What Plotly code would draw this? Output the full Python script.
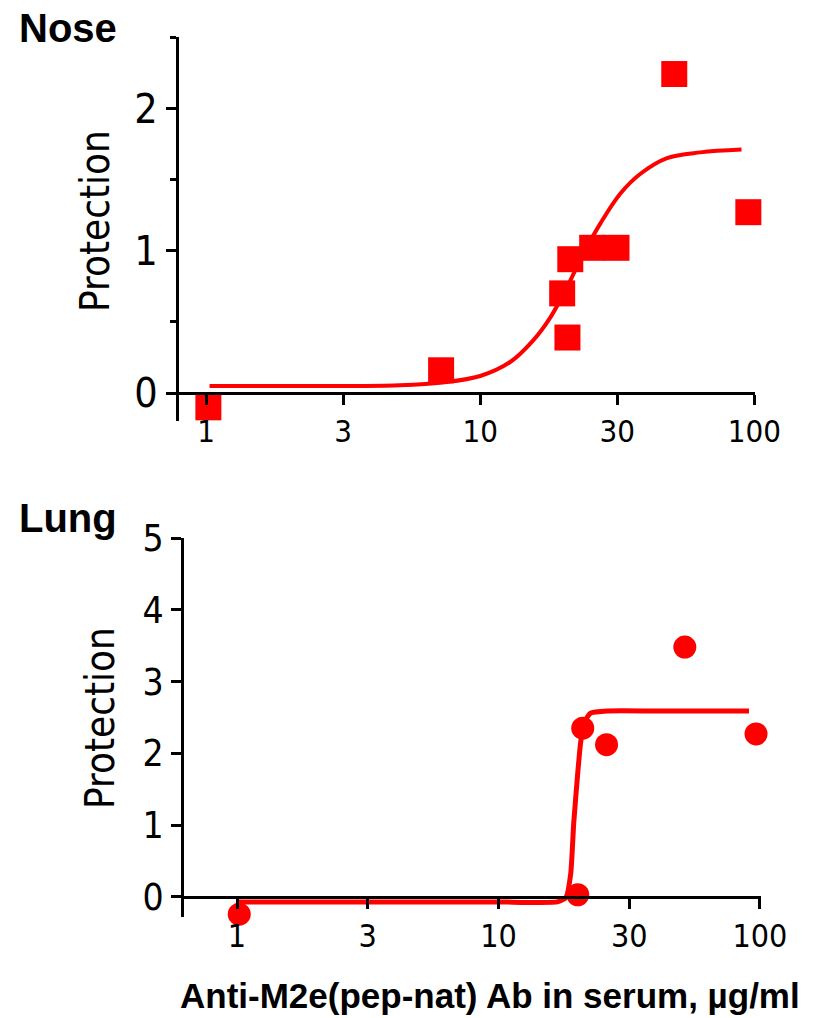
import plotly.graph_objects as go

W, H = 826, 1018

# ---- data ----
x_tick_vals = [1, 3.1623, 10, 31.623, 100]
x_tick_text = ["1", "3", "10", "30", "100"]

nose_x = [1.02, 7.2, 20.8, 19.9, 21.3, 25.6, 31.4, 51.0, 95.0]
nose_y = [-0.10, 0.16, 0.39, 0.70, 0.94, 1.02, 1.02, 2.24, 1.27]

nose_fit_x = [1.03, 2.0, 3.5, 5.1, 7.3, 10.0, 12.9, 15.6, 18.0, 20.8, 23.8, 27.4, 32.4, 38.4, 48.0, 63.5, 89.7]
nose_fit_y = [0.05, 0.05, 0.05, 0.055, 0.075, 0.12, 0.22, 0.37, 0.53, 0.75, 0.98, 1.19, 1.40, 1.54, 1.65, 1.69, 1.71]

lung_x = [1.02, 20.1, 21.0, 25.9, 51.6, 96.6]
lung_y = [-0.24, 0.03, 2.35, 2.12, 3.48, 2.27]

lung_fit_x = [1.0, 5.0, 10.0, 16.8, 18.1, 18.9, 19.4, 20.1, 20.6, 21.2, 22.5, 26.2, 40.0, 90.8]
lung_fit_y = [-0.07, -0.07, -0.07, -0.07, -0.01, 0.33, 1.03, 1.73, 2.14, 2.42, 2.56, 2.59, 2.59, 2.59]

nose_y_ticks = [0, 1, 2]
lung_y_ticks = [0, 1, 2, 3, 4, 5]

RED = "#FF0000"
NARROW = "DejaVu Sans Condensed, Liberation Sans Narrow, Arial Narrow, sans-serif"
BOLD = "Liberation Sans, Arial, sans-serif"


def xdom(p0, p1):
    return [p0 / W, p1 / W]


def ydom(top, bot):
    return [1 - bot / H, 1 - top / H]


def zero_pos(dom, rng):
    return dom[0] + (0 - rng[0]) / (rng[1] - rng[0]) * (dom[1] - dom[0])


fig = go.Figure()

# Nose
fig.add_trace(go.Scatter(x=nose_fit_x, y=nose_fit_y, mode="lines",
                         line=dict(color=RED, width=4, shape="spline", smoothing=1.0),
                         xaxis="x", yaxis="y", hoverinfo="skip"))
fig.add_trace(go.Scatter(x=nose_x, y=nose_y, mode="markers",
                         marker=dict(symbol="square", size=26, color=RED),
                         cliponaxis=False, xaxis="x", yaxis="y"))
# Lung
fig.add_trace(go.Scatter(x=lung_fit_x, y=lung_fit_y, mode="lines",
                         line=dict(color=RED, width=5, shape="spline", smoothing=0.5),
                         xaxis="x2", yaxis="y2", hoverinfo="skip"))
fig.add_trace(go.Scatter(x=lung_x, y=lung_y, mode="markers",
                         marker=dict(symbol="circle", size=23, color=RED),
                         cliponaxis=False, xaxis="x2", yaxis="y2"))

y1_dom = ydom(37, 421)
y1_rng = [-0.196, 2.5]
y2_dom = ydom(538, 917)
y2_rng = [-0.28, 5.0]

ax_common = dict(showline=True, linecolor="black", linewidth=3, ticks="outside",
                 ticklen=10, tickwidth=3, tickcolor="black", showgrid=False,
                 zeroline=False, automargin=False)

fig.update_layout(
    width=W, height=H, margin=dict(l=0, r=0, t=0, b=0, pad=0, autoexpand=False),
    paper_bgcolor="white", plot_bgcolor="white", showlegend=False,
    xaxis=dict(**ax_common, type="log", domain=xdom(179, 755), range=[-0.0985, 2.002],
               anchor="free", position=zero_pos(y1_dom, y1_rng),
               tickvals=x_tick_vals, ticktext=x_tick_text,
               tickfont=dict(family=NARROW, size=31, color="black")),
    yaxis=dict(**ax_common, domain=y1_dom, range=y1_rng, anchor="x",
               tickvals=nose_y_ticks,
               minor=dict(ticks="outside", ticklen=6, tickwidth=3, tickcolor="black",
                          dtick=0.5, tick0=0),
               tickfont=dict(family=NARROW, size=41, color="black")),
    xaxis2=dict(**ax_common, type="log", domain=xdom(184, 761), range=[-0.2027, 2.004],
                anchor="free", position=zero_pos(y2_dom, y2_rng),
                tickvals=x_tick_vals, ticktext=x_tick_text,
                tickfont=dict(family=NARROW, size=32, color="black")),
    yaxis2=dict(**ax_common, domain=y2_dom, range=y2_rng, anchor="x2",
                tickvals=lung_y_ticks,
                tickfont=dict(family=NARROW, size=37, color="black")),
)

ann = [
    dict(text="<b>Nose</b>", x=17 / W, y=1 - 28 / H, xanchor="left", yanchor="middle",
         font=dict(family=BOLD, size=40, color="black")),
    dict(text="<b>Lung</b>", x=17 / W, y=1 - 518 / H, xanchor="left", yanchor="middle",
         font=dict(family=BOLD, size=40, color="black")),
    dict(text="Protection", x=95 / W, y=1 - 221 / H, textangle=-90, xanchor="center",
         yanchor="middle", font=dict(family=NARROW, size=40, color="black")),
    dict(text="Protection", x=100 / W, y=1 - 718 / H, textangle=-90, xanchor="center",
         yanchor="middle", font=dict(family=NARROW, size=40, color="black")),
    dict(text="<b>Anti-M2e(pep-nat) Ab in serum, µg/ml</b>", x=490 / W, y=1 - 995 / H,
         xanchor="center", yanchor="middle", font=dict(family=BOLD, size=35, color="black")),
]
for a in ann:
    a.update(xref="paper", yref="paper", showarrow=False)
fig.update_layout(annotations=ann)

fig.write_html("out.html")
